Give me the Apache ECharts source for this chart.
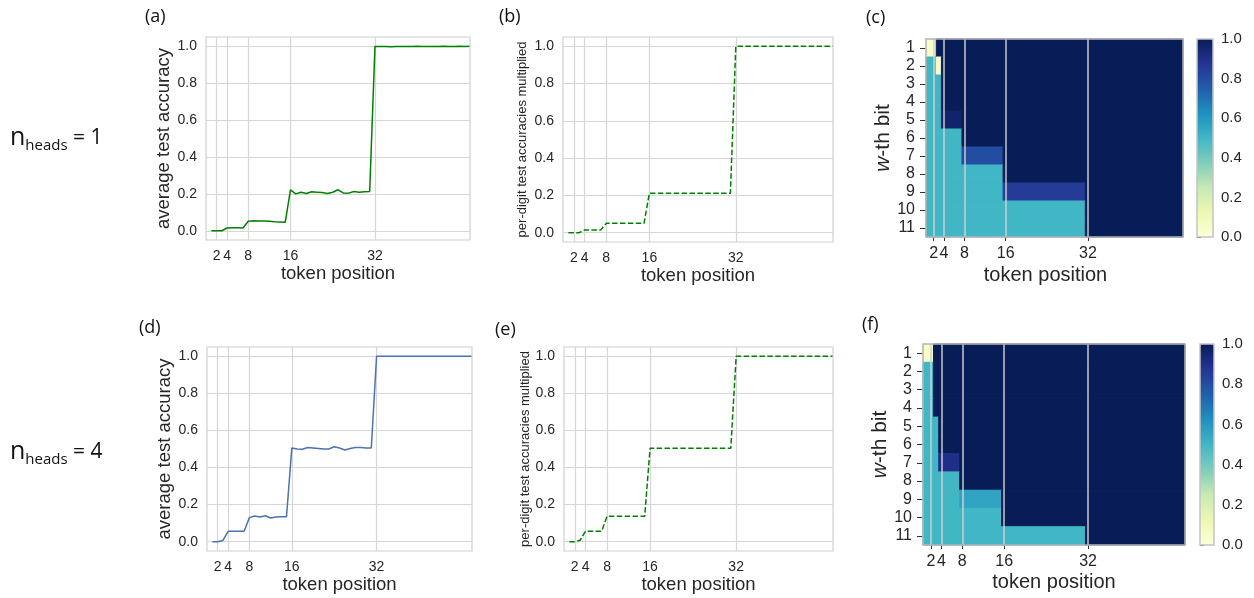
<!DOCTYPE html>
<html><head><meta charset="utf-8">
<script src="https://cdn.jsdelivr.net/npm/echarts@6/dist/echarts.min.js"></script>
<style>html,body{margin:0;padding:0;background:#fff}#c{width:1254px;height:598px}</style>
</head><body><div id="c"></div>
<script>
// ---------- data ----------
const tokens = [1,2,3,4,5,6,7,8,9,10,11,12,13,14,15,16,17,18,19,20,21,22,23,24,25,26,27,28,29,30,31,32,33,34,35,36,37,38,39,40,41,42,43,44,45,46,47,48,49,50];
const xTickValues = [2,4,8,16,32];
const yTickValues = [0,0.2,0.4,0.6,0.8,1.0];
const bitPositions = [1,2,3,4,5,6,7,8,9,10,11];

const avgAccHeads1 = [0.000,0.000,0.000,0.015,0.016,0.016,0.015,0.052,0.054,0.053,0.053,0.051,0.049,0.048,0.046,
  0.222,0.200,0.209,0.202,0.211,0.209,0.207,0.202,0.209,0.222,0.205,0.204,0.213,0.209,0.211,0.213,
  0.998,0.999,0.998,0.997,0.999,0.999,0.998,0.999,1.000,0.999,0.998,0.999,0.999,1.000,0.999,0.999,1.000,0.999,1.000];
const prodAccHeads1 = [0,0,0,0.015,0.015,0.015,0.015,0.050,0.050,0.050,0.050,0.050,0.050,0.050,0.050,
  0.212,0.212,0.212,0.212,0.212,0.212,0.212,0.212,0.212,0.212,0.212,0.212,0.212,0.212,0.212,0.212,
  1,1,1,1,1,1,1,1,1,1,1,1,1,1,1,1,1,1,1];
const avgAccHeads4 = [0.000,0.000,0.007,0.056,0.056,0.056,0.056,0.130,0.139,0.133,0.140,0.128,0.133,0.135,0.135,
  0.505,0.500,0.499,0.508,0.506,0.503,0.500,0.500,0.512,0.505,0.495,0.503,0.508,0.508,0.506,0.505,
  1,1,1,1,1,1,1,1,1,1,1,1,1,1,1,1,1,1,1];
const prodAccHeads4 = [0,0,0.008,0.057,0.057,0.057,0.057,0.137,0.137,0.137,0.137,0.137,0.137,0.137,0.137,
  0.504,0.504,0.504,0.504,0.504,0.504,0.504,0.504,0.504,0.504,0.504,0.504,0.504,0.504,0.504,0.504,
  1,1,1,1,1,1,1,1,1,1,1,1,1,1,1,1,1,1,1];

// per-bit accuracy, one row per bit (1..11): runs of [fromToken, toToken, accuracy]
const bitAccHeads1 = [
  [[1,2,0.04],[3,50,1]],
  [[1,2,0.5],[3,3,0.04],[4,50,1]],
  [[1,3,0.5],[4,50,1]],
  [[1,3,0.5],[4,50,1]],
  [[1,3,0.5],[4,7,0.96],[8,50,1]],
  [[1,7,0.5],[8,50,1]],
  [[1,7,0.5],[8,15,0.8],[16,50,1]],
  [[1,15,0.5],[16,50,1]],
  [[1,15,0.5],[16,31,0.85],[32,50,1]],
  [[1,31,0.5],[32,50,1]],
  [[1,31,0.5],[32,50,1]]
];
const bitAccHeads4 = [
  [[1,2,0.05],[3,50,1]],
  [[1,2,0.5],[3,50,1]],
  [[1,2,0.5],[3,50,1]],
  [[1,2,0.5],[3,50,1]],
  [[1,3,0.5],[4,50,1]],
  [[1,3,0.5],[4,50,1]],
  [[1,3,0.5],[4,7,0.9],[8,50,1]],
  [[1,7,0.5],[8,50,1]],
  [[1,7,0.5],[8,15,0.56],[16,50,1]],
  [[1,15,0.5],[16,50,1]],
  [[1,31,0.5],[32,50,1]]
];

// ---------- styling ----------
const YlGnBu = ['#ffffd9','#edf8b1','#c7e9b4','#7fcdbb','#41b6c4','#1d91c0','#225ea8','#253494','#081d58'];
const SANS = "'Liberation Sans', Arial, sans-serif";
const OPEN = "'Open Sans', sans-serif";
const TXT = '#262626';
const GRIDC = '#d6d6d6';

function flattenRuns(rows) {
  const out = [];
  rows.forEach((runs, r) => runs.forEach(([a, b, v]) => out.push([a, b, bitPositions[r], v])));
  return out;
}
const pairs = arr => tokens.map((t, i) => [t, arr[i]]);

function renderRun(params, api) {
  const a = api.value(0), b = api.value(1), r = api.value(2);
  const p1 = api.coord([a - 0.5, r - 0.5]);
  const p2 = api.coord([b + 0.5, r + 0.5]);
  const c = api.visual('color');
  return {
    type: 'rect',
    shape: {x: Math.min(p1[0], p2[0]), y: Math.min(p1[1], p2[1]),
            width: Math.abs(p2[0] - p1[0]), height: Math.abs(p2[1] - p1[1])},
    style: {fill: c, stroke: c, lineWidth: 1}
  };
}

const grids = [
  {left:206, top:37, width:264, height:203},
  {left:563, top:37, width:270, height:205},
  {left:926, top:39, width:257, height:198},
  {left:207, top:347, width:265, height:204},
  {left:564, top:347, width:269, height:204},
  {left:923, top:344, width:262, height:201},
  {left:1197, top:39, width:16, height:198},
  {left:1200, top:344, width:14, height:201}
].map((g, i) => Object.assign(g, {
  show: true, z: 10, backgroundColor: 'transparent',
  borderColor: (i === 2 || i === 5) ? '#b4b4b4' : (i >= 6 ? '#c4c4c4' : '#d0d0d0'),
  borderWidth: (i === 2 || i === 5 || i >= 6) ? 1.5 : 1.2
}));

function lineX(gi) {
  return {
    gridIndex: gi, type: 'value', min: 0, max: 50,
    axisLine: {show: false},
    axisTick: {show: false, customValues: xTickValues},
    axisLabel: {customValues: xTickValues, fontSize: 14, color: TXT, fontFamily: SANS, margin: 9},
    splitLine: {show: true, lineStyle: {color: GRIDC, width: 1.2}},
    name: 'token position', nameLocation: 'middle', nameGap: 24,
    nameTextStyle: {fontSize: 18.5, color: TXT, fontFamily: SANS}
  };
}
function lineY(gi, name, fs, gap) {
  return {
    gridIndex: gi, type: 'value', min: -0.05, max: 1.05,
    axisLine: {show: false},
    axisTick: {show: false, customValues: yTickValues},
    axisLabel: {customValues: yTickValues, fontSize: 14, color: TXT, fontFamily: SANS, margin: 9,
      formatter: v => v.toFixed(1)},
    splitLine: {show: true, lineStyle: {color: GRIDC, width: 1.2}},
    name: name, nameLocation: 'middle', nameGap: gap,
    nameTextStyle: {fontSize: fs, color: TXT, fontFamily: SANS}
  };
}
function heatX(gi, gap, pad) {
  return {
    gridIndex: gi, type: 'value', min: 0.5, max: 50.5,
    axisLine: {show: false},
    axisTick: {show: true, customValues: xTickValues, length: 4, lineStyle: {color: '#333', width: 1}},
    axisLabel: {customValues: xTickValues, fontSize: 16, color: TXT, fontFamily: SANS, margin: 9},
    splitLine: {show: false},
    name: 'token position', nameLocation: 'middle', nameGap: gap,
    nameTextStyle: {fontSize: 20, color: TXT, fontFamily: SANS, padding: pad}
  };
}
function heatY(gi) {
  return {
    gridIndex: gi, type: 'value', min: 0.5, max: 11.5, inverse: true,
    axisLine: {show: false},
    axisTick: {show: true, customValues: bitPositions, length: 6, lineStyle: {color: '#333', width: 1}},
    axisLabel: {customValues: bitPositions, fontSize: 16, color: TXT, fontFamily: SANS, margin: 11},
    splitLine: {show: false},
    name: '{i|w}-th bit', nameLocation: 'middle', nameGap: 30,
    nameTextStyle: {fontSize: 21, color: TXT, fontFamily: SANS,
      rich: {i: {fontStyle: 'italic', fontSize: 21, color: TXT, fontFamily: SANS}}}
  };
}
function cbarX(gi) { return {gridIndex: gi, type: 'value', show: false, min: 0, max: 1}; }
function cbarY(gi) {
  return {
    gridIndex: gi, type: 'value', position: 'right', min: 0, max: 1, interval: 0.2,
    axisLine: {show: false},
    axisTick: {show: true, length: 4, lineStyle: {color: '#333', width: 1}},
    axisLabel: {fontSize: 15, color: TXT, fontFamily: SANS, margin: 8, formatter: v => v.toFixed(1)},
    splitLine: {show: false}
  };
}

const vLines = {
  silent: true, symbol: ['none', 'none'], animation: false,
  label: {show: false},
  lineStyle: {color: '#d2d2d2', width: 1.5, type: 'solid', opacity: 0.95},
  data: xTickValues.map(v => ({xAxis: v}))
};

function panelTitle(t, left, top) {
  return {text: t, left: left, top: top, padding: 0,
    textStyle: {fontFamily: OPEN, fontWeight: 'normal', fontSize: 18, color: '#111'}};
}
function headsTitle(n, top) {
  return {text: '{n|n}{s|heads}{e| = ' + n + '}', left: 10, top: top, padding: 0,
    textStyle: {fontWeight: 'normal', rich: {
      n: {fontFamily: OPEN, fontWeight: 'normal', fontSize: 25, lineHeight: 30, color: '#111'},
      s: {fontFamily: OPEN, fontWeight: 'normal', fontSize: 15, lineHeight: 8, verticalAlign: 'bottom', color: '#111'},
      e: {fontFamily: OPEN, fontWeight: 'normal', fontSize: 21, lineHeight: 30, color: '#111'}
    }}};
}

const option = {
  animation: false,
  backgroundColor: '#ffffff',
  title: [
    panelTitle('(a)', 145, 8), panelTitle('(b)', 499, 8), panelTitle('(c)', 866, 9),
    panelTitle('(d)', 139, 319), panelTitle('(e)', 495, 321), panelTitle('(f)', 862, 316),
    headsTitle(1, 123), headsTitle(4, 437)
  ],
  grid: grids,
  xAxis: [lineX(0), lineX(1), heatX(2, 28, [0, 18, 0, 0]), lineX(3), lineX(4), heatX(5, 27, 0), cbarX(6), cbarX(7)],
  yAxis: [
    lineY(0, 'average test accuracy', 18.5, 31),
    lineY(1, 'per-digit test accuracies multiplied', 13, 34),
    heatY(2),
    lineY(3, 'average test accuracy', 18.5, 31),
    lineY(4, 'per-digit test accuracies multiplied', 13, 32),
    heatY(5),
    cbarY(6), cbarY(7)
  ],
  visualMap: [
    {type: 'continuous', seriesIndex: 2, dimension: 3, min: 0, max: 1, inRange: {color: YlGnBu},
     orient: 'vertical', left: 1197, top: 39, itemWidth: 16, itemHeight: 198, padding: 0,
     calculable: false, hoverLink: false, text: null},
    {type: 'continuous', seriesIndex: 5, dimension: 3, min: 0, max: 1, inRange: {color: YlGnBu},
     orient: 'vertical', left: 1200, top: 344, itemWidth: 14, itemHeight: 201, padding: 0,
     calculable: false, hoverLink: false, text: null}
  ],
  series: [
    {type: 'line', xAxisIndex: 0, yAxisIndex: 0, data: pairs(avgAccHeads1), showSymbol: false, symbol: 'none',
     lineStyle: {color: '#008000', width: 1.5}, itemStyle: {color: '#008000'}},
    {type: 'line', xAxisIndex: 1, yAxisIndex: 1, data: pairs(prodAccHeads1), showSymbol: false, symbol: 'none',
     lineStyle: {color: '#008000', width: 1.5, type: [5.5, 2.4]}, itemStyle: {color: '#008000'}},
    {type: 'custom', xAxisIndex: 2, yAxisIndex: 2, data: flattenRuns(bitAccHeads1), renderItem: renderRun,
     encode: {x: [0, 1], y: 2}, markLine: vLines, silent: true},
    {type: 'line', xAxisIndex: 3, yAxisIndex: 3, data: pairs(avgAccHeads4), showSymbol: false, symbol: 'none',
     lineStyle: {color: '#4c72b0', width: 1.5}, itemStyle: {color: '#4c72b0'}},
    {type: 'line', xAxisIndex: 4, yAxisIndex: 4, data: pairs(prodAccHeads4), showSymbol: false, symbol: 'none',
     lineStyle: {color: '#008000', width: 1.5, type: [5.5, 2.4]}, itemStyle: {color: '#008000'}},
    {type: 'custom', xAxisIndex: 5, yAxisIndex: 5, data: flattenRuns(bitAccHeads4), renderItem: renderRun,
     encode: {x: [0, 1], y: 2}, markLine: vLines, silent: true},
    {type: 'line', xAxisIndex: 6, yAxisIndex: 6, data: []},
    {type: 'line', xAxisIndex: 7, yAxisIndex: 7, data: []}
  ]
};
const chart = echarts.init(document.getElementById('c'));
chart.setOption(option);
</script></body></html>
